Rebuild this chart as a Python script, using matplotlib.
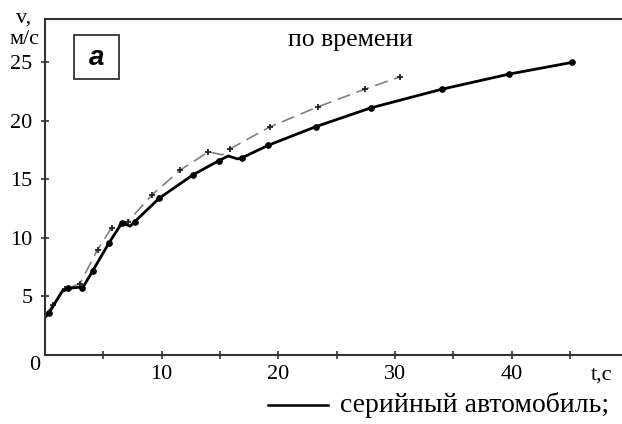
import matplotlib
matplotlib.use("Agg")
import matplotlib.pyplot as plt
from matplotlib.patches import Rectangle

plt.rcParams.update({
    "font.family": ["Liberation Serif", "DejaVu Serif"],
    "font.size": 16,
})

# серийный автомобиль (solid)
t_serial = [0.0, 0.35, 1.5, 2.0, 3.1, 3.2, 4.1, 5.5, 6.6, 7.3, 7.7, 9.8,
            12.7, 14.9, 15.7, 16.5, 16.9, 19.1, 23.2, 27.9, 34.0, 39.8, 45.2]
v_serial = [3.2, 3.6, 5.5, 5.7, 5.8, 5.7, 7.2, 9.6, 11.3, 11.0, 11.4, 13.4,
            15.4, 16.6, 17.0, 16.75, 16.85, 17.9, 19.5, 21.1, 22.7, 24.0, 25.0]
m_serial = [1, 3, 5, 6, 7, 8, 10, 11, 12, 13, 16, 17, 18, 19, 20, 21, 22]

# second car (dashed)
t_mod = [0.0, 0.7, 1.7, 3.0, 4.5, 5.7, 7.1, 9.2, 11.6, 14.0, 15.2, 15.85,
         19.3, 23.4, 27.4, 30.4]
v_mod = [3.4, 4.3, 5.6, 6.1, 9.0, 10.85, 11.4, 13.7, 15.8, 17.35, 17.1, 17.6,
         19.5, 21.2, 22.7, 23.75]
m_mod = [1, 2, 3, 4, 5, 6, 7, 8, 9, 11, 12, 13, 14, 15]

x_major = [10, 20, 30, 40]
x_minor = [5, 15, 25, 35, 45]
y_major = [5, 10, 15, 20, 25]

W, H = 622, 424
fig = plt.figure(figsize=(W / 100, H / 100), dpi=100)
ax = fig.add_axes([45 / W, 69 / H, 577 / W, 336 / H])

ax.plot(t_mod, v_mod, color="#808080", lw=1.2, dashes=(8, 4),
        marker="+", markersize=5, mew=1.3, mec="#222222", markevery=m_mod)
ax.plot(t_serial, v_serial, color="black", lw=2.0,
        marker="o", markersize=3.8, markevery=m_serial)

ax.set_xlim(0, 49.45)
ax.set_ylim(0, 28.7)
for s in ("left", "top", "bottom"):
    ax.spines[s].set_linewidth(1.5)
    ax.spines[s].set_color("#333333")
ax.spines["right"].set_visible(False)

ax.set_xticks(x_major)
ax.set_xticks(x_minor, minor=True)
ax.set_yticks(y_major)
ax.tick_params(which="both", direction="inout", length=6, width=1.2,
               color="#333333", labelsize=16)
ax.tick_params(axis="y", pad=6)
ax.tick_params(axis="x", pad=4)

fig.text(35 / W, 1 - 365 / H, "0", ha="center", va="center", fontsize=16)
fig.text(24 / W, 1 - 18 / H, "v,", ha="center", va="center", fontsize=16)
fig.text(24 / W, 1 - 40 / H, "м/с", ha="center", va="center", fontsize=16)
fig.text(602 / W, 1 - 375 / H, "t,c", ha="center", va="center", fontsize=16)

fig.text(350 / W, 1 - 40 / H, "по времени", ha="center", va="center",
         fontsize=18.5)

fig.add_artist(Rectangle((74 / W, 1 - 79 / H), 45 / W, 44 / H,
                         transform=fig.transFigure, fc="white",
                         ec="#333333", lw=1.3))
fig.text(96.5 / W, 1 - 58 / H, "а", ha="center", va="center", fontsize=20,
         style="italic", weight="bold", family=["Liberation Sans"])

fig.add_artist(plt.Line2D([268 / W, 328 / W], [1 - 405 / H, 1 - 405 / H],
                          color="black", lw=1.8))
fig.text(340 / W, 1 - 405 / H, "серийный автомобиль;", ha="left",
         va="center", fontsize=20)

fig.savefig("out.png", dpi=100)
